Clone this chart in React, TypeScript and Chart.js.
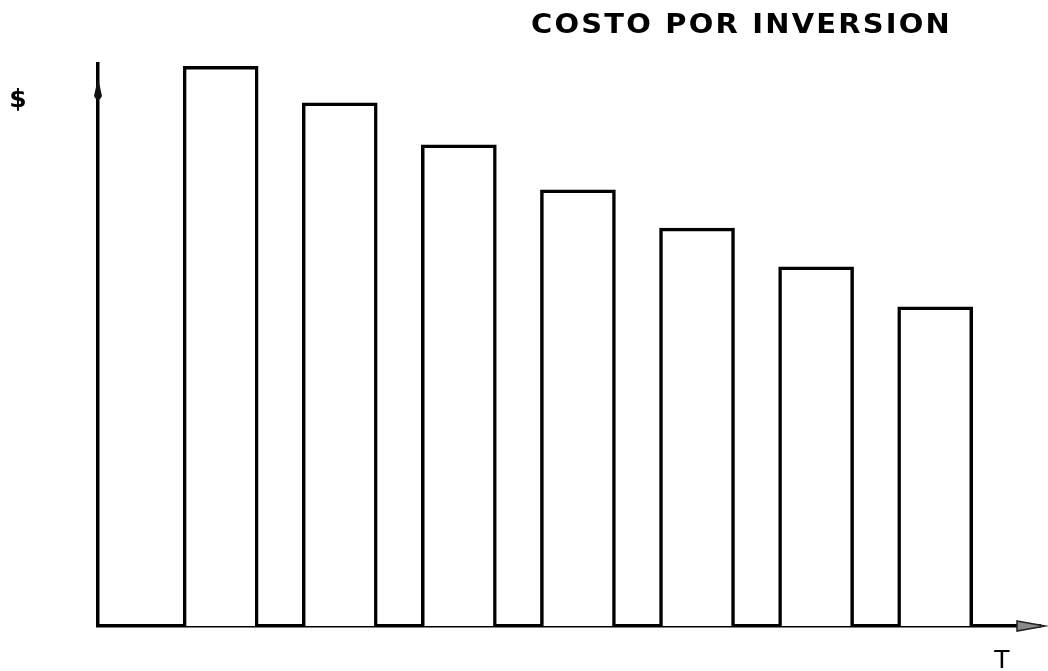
import React, { useEffect, useRef } from "react";
import { Chart, registerables } from "chart.js";

Chart.register(...registerables);

// Periods (T axis) and investment cost ($ axis, relative units)
const periods = [1, 2, 3, 4, 5, 6, 7];
const costs = [99.6, 93.1, 85.6, 77.6, 70.8, 63.9, 56.8];
const titleText = "COSTO POR INVERSION";
const yAxisLabel = "$";
const xAxisLabel = "T";

const annotationsPlugin = {
  id: "handDrawnAnnotations",
  afterDraw(chart: any) {
    const { ctx, chartArea } = chart;
    const { left, right, top, bottom } = chartArea;
    ctx.save();

    // Up arrowhead on the $ axis
    ctx.fillStyle = "#111";
    ctx.beginPath();
    ctx.moveTo(left, top + 14);
    ctx.lineTo(left - 4, top + 32);
    ctx.quadraticCurveTo(left, top + 40, left + 4, top + 32);
    ctx.closePath();
    ctx.fill();

    // Right arrowhead on the T axis
    ctx.fillStyle = "#8a8a8a";
    ctx.strokeStyle = "#222";
    ctx.lineWidth = 1.5;
    ctx.beginPath();
    ctx.moveTo(right - 23, bottom - 5);
    ctx.lineTo(right + 5, bottom);
    ctx.lineTo(right - 23, bottom + 5);
    ctx.closePath();
    ctx.fill();
    ctx.stroke();

    // Title
    ctx.fillStyle = "#000";
    ctx.textBaseline = "middle";
    ctx.textAlign = "left";
    ctx.font = "bold 26px 'DejaVu Sans'";
    try {
      (ctx as any).letterSpacing = "2px";
    } catch (e) {}
    const targetW = 421;
    const w = ctx.measureText(titleText).width;
    const sx = targetW / w;
    ctx.save();
    ctx.translate(531, 26);
    ctx.scale(sx, 1);
    ctx.fillText(titleText, 0, 0);
    ctx.restore();
    try {
      (ctx as any).letterSpacing = "0px";
    } catch (e) {}

    // Axis labels
    ctx.textAlign = "center";
    ctx.font = "bold 25px 'DejaVu Sans'";
    ctx.fillText(yAxisLabel, 18, 100);
    ctx.font = "25px 'DejaVu Sans'";
    ctx.fillText(xAxisLabel, 1002, 661);

    ctx.restore();
  },
};

export default function App() {
  const canvasRef = useRef<HTMLCanvasElement | null>(null);

  useEffect(() => {
    document.body.style.margin = "0";
    document.body.style.background = "#fff";
    const canvas = canvasRef.current;
    if (!canvas) return;
    const chart = new Chart(canvas, {
      type: "bar",
      data: {
        datasets: [
          {
            data: periods.map((p, i) => ({ x: p, y: costs[i] })),
            backgroundColor: "#ffffff",
            borderColor: "#000000",
            borderWidth: 3.5,
            borderSkipped: "bottom",
            barThickness: 75,
          },
        ],
      },
      options: {
        animation: false,
        responsive: false,
        maintainAspectRatio: false,
        layout: { padding: { top: 64, bottom: 45, left: 98, right: 8 } },
        plugins: {
          legend: { display: false },
          tooltip: { enabled: false },
          title: { display: false },
        },
        scales: {
          x: {
            type: "linear",
            min: -0.03,
            max: 7.88,
            offset: false,
            grid: { display: false, drawTicks: false },
            border: { display: true, color: "#000", width: 3.5 },
            ticks: { display: false },
          },
          y: {
            type: "linear",
            min: 0,
            max: 100,
            grid: { display: false, drawTicks: false },
            border: { display: true, color: "#000", width: 3.5 },
            ticks: { display: false },
          },
        },
      },
      plugins: [annotationsPlugin],
    });
    return () => chart.destroy();
  }, []);

  return (
    <div style={{ width: 1048, height: 671, background: "#fff" }}>
      <canvas ref={canvasRef} width={1048} height={671} style={{ display: "block" }} />
    </div>
  );
}
